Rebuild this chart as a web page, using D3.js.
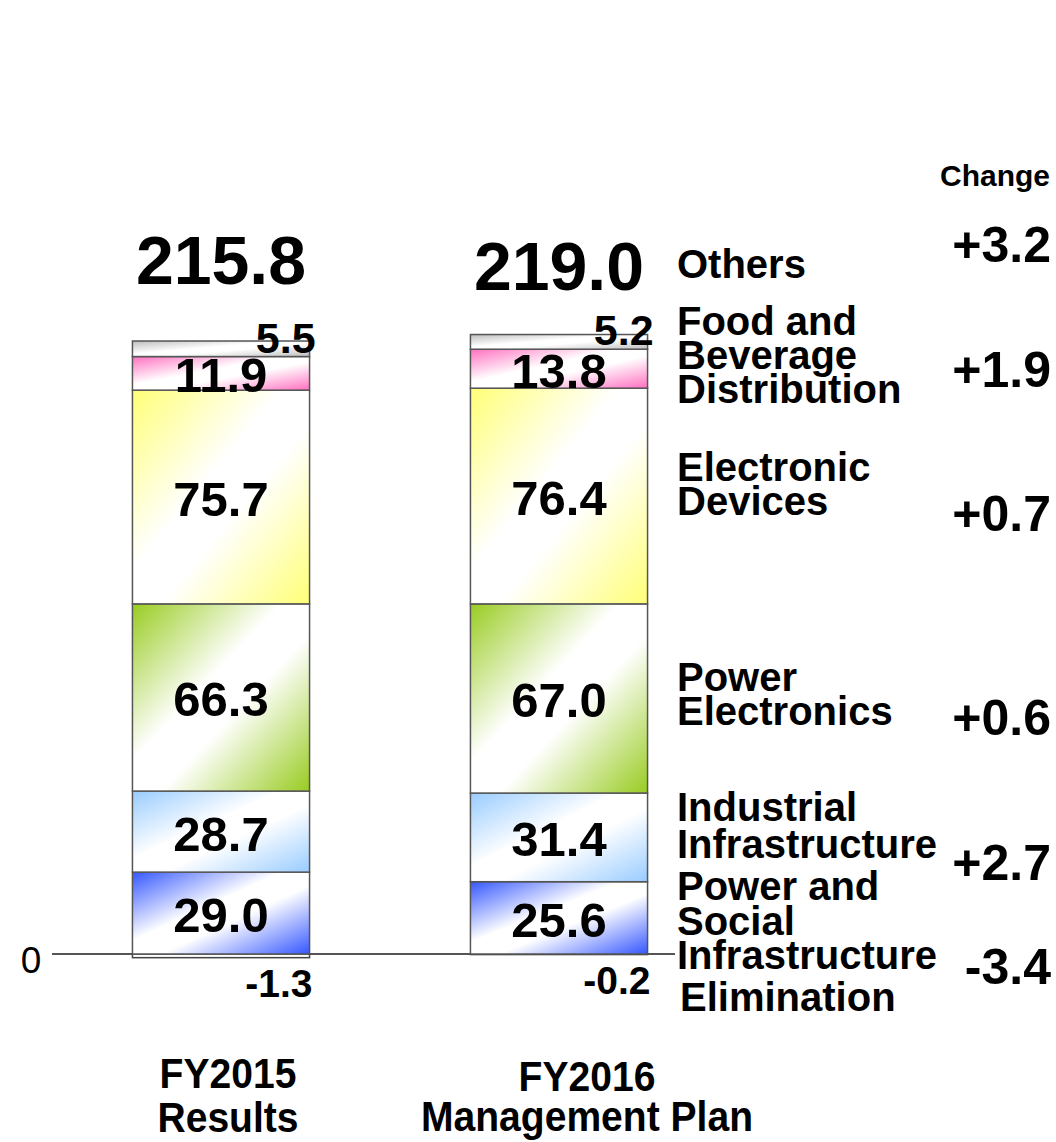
<!DOCTYPE html>
<html>
<head>
<meta charset="utf-8">
<script src="https://cdnjs.cloudflare.com/ajax/libs/d3/7.8.5/d3.min.js"></script>
<style>
    body { margin: 0; background: #fff; }
    svg { display: block; font-family: "Liberation Sans", Arial, sans-serif; }
    .seg-label { font-weight: bold; }
    .cat-label { font-weight: bold; font-size: 40px; }
    .change { font-weight: bold; font-size: 50px; text-anchor: end; }
    .period { font-weight: bold; font-size: 42px; text-anchor: middle; }
</style>
</head>
<body>
<svg id="chart" width="1056" height="1142"></svg>
<script>
// data, bottom segment first
const periods = ['FY2015 Results', 'FY2016 Management Plan'];
const periodLines = [['FY2015', 'Results'], ['FY2016', 'Management Plan']];
const segments = ['Power and Social Infrastructure', 'Industrial Infrastructure', 'Power Electronics',
    'Electronic Devices', 'Food and Beverage Distribution', 'Others'];
const fy2015 = [29.0, 28.7, 66.3, 75.7, 11.9, 5.5];
const fy2016 = [25.6, 31.4, 67.0, 76.4, 13.8, 5.2];
const elimination = [-1.3, -0.2];
const totals = [215.8, 219.0];
const totalChange = '+3.2';
const segmentChanges = ['-3.4', '+2.7', '+0.6', '+0.7', '+1.9'];
const segColors = ['#3557ff', '#99ccff', '#99cc22', '#ffff77', '#ff70c0', '#bdbdbd'];

const svg = d3.select('#chart');
const defs = svg.append('defs');

const x = d3.scaleBand()
    .domain(periods)
    .range([52, 728])
    .paddingInner(0.476)
    .paddingOuter(0.238);

const y = d3.scaleLinear()
    .domain([0, 220])
    .range([954, 954 - 220 * 2.8235]);

// diagonal gradients: colour in the corners, white through the middle
segColors.forEach((c, i) => {
    const g = defs.append('linearGradient')
        .attr('id', 'grad' + i)
        .attr('x1', 0).attr('y1', 0).attr('x2', 1).attr('y2', 1);
    g.append('stop').attr('offset', '0%').attr('stop-color', c);
    g.append('stop').attr('offset', '42%').attr('stop-color', '#fff');
    g.append('stop').attr('offset', '58%').attr('stop-color', '#fff');
    g.append('stop').attr('offset', '100%').attr('stop-color', c);
});

const series = [fy2015, fy2016];
const stacked = series.map(vals => {
    let acc = 0;
    return vals.map((v, i) => {
        const d = { i, v, y0: acc, y1: acc + v };
        acc += v;
        return d;
    });
});

// zero line
svg.append('line')
    .attr('x1', 52).attr('x2', 675)
    .attr('y1', y(0)).attr('y2', y(0))
    .attr('stroke', '#555').attr('stroke-width', 2);

svg.append('text')
    .attr('x', 31).attr('y', y(0) + 19)
    .attr('text-anchor', 'middle')
    .attr('font-size', 37)
    .text('0');

periods.forEach((p, pi) => {
    const g = svg.append('g');
    const bx = x(p), bw = x.bandwidth();

    // elimination box below zero
    g.append('rect')
        .attr('x', bx).attr('width', bw)
        .attr('y', y(0)).attr('height', y(elimination[pi]) - y(0))
        .attr('fill', '#fff').attr('stroke', '#444').attr('stroke-width', 1.5);

    g.selectAll('rect.seg')
        .data(stacked[pi])
        .join('rect')
        .attr('class', 'seg')
        .attr('x', bx).attr('width', bw)
        .attr('y', d => y(d.y1))
        .attr('height', d => y(d.y0) - y(d.y1))
        .attr('fill', d => `url(#grad${d.i})`)
        .attr('stroke', '#555').attr('stroke-width', 1.5);

    // segment values (the small "Others" value sits up and to the right)
    g.selectAll('text.seg-label')
        .data(stacked[pi])
        .join('text')
        .attr('class', 'seg-label')
        .attr('x', d => d.i === 5 ? bx + bw + 6 : bx + bw / 2)
        .attr('y', d => d.i === 5 ? y(d.y0) - 4 : (y(d.y0) + y(d.y1)) / 2 + 19)
        .attr('text-anchor', d => d.i === 5 ? 'end' : 'middle')
        .attr('font-size', d => d.i === 5 ? 43 : 49)
        .text(d => d.v.toFixed(1));

    g.append('text')
        .attr('x', bx + bw + 3)
        .attr('y', y(elimination[pi]) + 39)
        .attr('text-anchor', 'end')
        .attr('font-weight', 'bold')
        .attr('font-size', 39)
        .text(elimination[pi].toFixed(1));

    const top = stacked[pi][stacked[pi].length - 1].y1;
    g.append('text')
        .attr('x', bx + bw / 2)
        .attr('y', pi === 0 ? y(top) - 57 : y(top) - 45)
        .attr('text-anchor', 'middle')
        .attr('font-weight', 'bold')
        .attr('font-size', 68)
        .text(totals[pi].toFixed(1));

    // period labels are a narrow face: squeeze horizontally
    const cx = bx + bw / 2 + (pi === 0 ? 7 : 28);
    const pl = svg.append('text')
        .attr('class', 'period')
        .attr('transform', `translate(${cx},0) scale(0.93,1)`)
        .attr('x', 0)
        .attr('y', pi === 0 ? 1088 : 1091);
    periodLines[pi].forEach((line, li) => {
        pl.append('tspan')
            .attr('x', 0)
            .attr('dy', li === 0 ? 0 : pi === 0 ? 44 : 40)
            .text(line);
    });
});

// category labels on the right
const catLines = [
    ['Power and', 'Social', 'Infrastructure'],
    ['Industrial', 'Infrastructure'],
    ['Power', 'Electronics'],
    ['Electronic', 'Devices'],
    ['Food and', 'Beverage', 'Distribution'],
    ['Others']
];
const catTop = [900, 821, 691, 481, 335, 278];
const catStep = [34.5, 37, 34, 34, 34, 34];
catLines.forEach((lines, i) => {
    const t = svg.append('text').attr('class', 'cat-label').attr('x', 677).attr('y', catTop[i]);
    lines.forEach((line, li) => {
        t.append('tspan').attr('x', 677).attr('dy', li === 0 ? 0 : catStep[i]).text(line);
    });
});
svg.append('text').attr('class', 'cat-label').attr('x', 680).attr('y', 1011).text('Elimination');

// change column
svg.append('text')
    .attr('x', 1050).attr('y', 186)
    .attr('text-anchor', 'end')
    .attr('font-weight', 'bold')
    .attr('font-size', 30)
    .text('Change');

const changeY = [984, 880, 735, 531, 387];
svg.append('text').attr('class', 'change').attr('x', 1051).attr('y', 262).text(totalChange);
segmentChanges.forEach((c, i) => {
    svg.append('text').attr('class', 'change').attr('x', 1051).attr('y', changeY[i]).text(c);
});
</script>
</body>
</html>
